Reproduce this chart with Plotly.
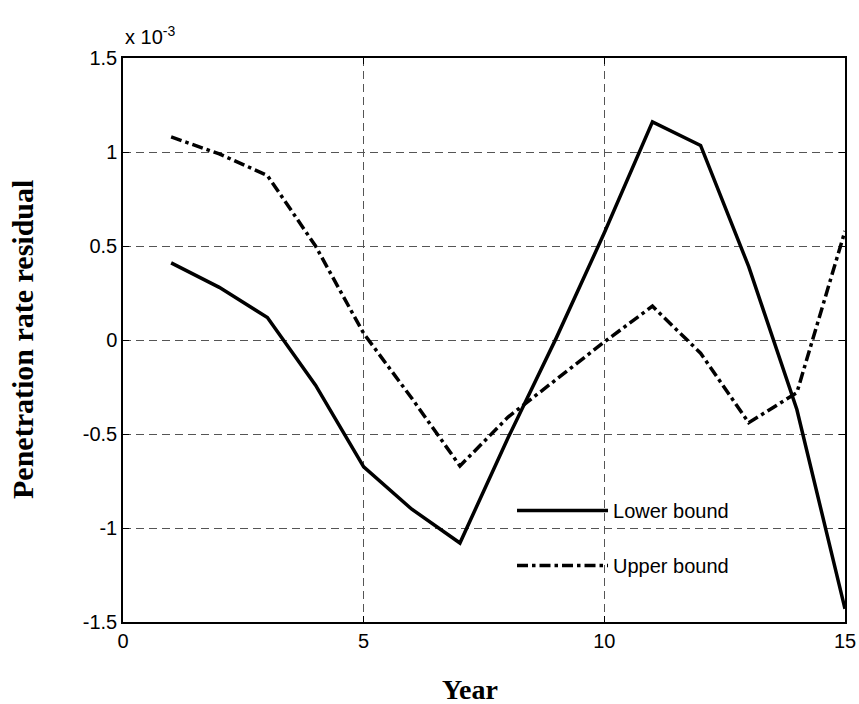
import plotly.graph_objects as go

# Data (residual values in units of 1e-3)
years = [1, 2, 3, 4, 5, 6, 7, 8, 9, 10, 11, 12, 13, 14, 15]
lower_bound = [0.41, 0.28, 0.12, -0.24, -0.675, -0.90, -1.08, -0.52, 0.01, 0.57, 1.16, 1.035, 0.39, -0.37, -1.43]
upper_bound = [1.08, 0.99, 0.875, 0.50, 0.035, -0.31, -0.67, -0.41, -0.21, -0.01, 0.18, -0.07, -0.44, -0.28, 0.58]

x_tick_vals = [0, 5, 10, 15]
x_tick_text = ["0", "5", "10", "15"]
y_tick_vals = [-1.5, -1, -0.5, 0, 0.5, 1, 1.5]
y_tick_text = ["-1.5", "-1", "-0.5", "0", "0.5", "1", "1.5"]

SANS = "Liberation Sans, Arial, sans-serif"
SERIF = "Liberation Serif, Times New Roman, serif"
TICK_FONT = dict(family=SANS, size=20, color="black")

fig = go.Figure()
fig.add_trace(go.Scatter(x=years, y=lower_bound, mode="lines", name="Lower bound",
                         legendgroup="a",
                         line=dict(color="black", width=3.5)))
fig.add_trace(go.Scatter(x=years, y=upper_bound, mode="lines", name="Upper bound",
                         legendgroup="b",
                         line=dict(color="black", width=3.5, dash="11px,4px,3.5px,4px")))

axis_common = dict(
    showline=True, linecolor="black", linewidth=1.5, mirror="ticks",
    ticks="inside", ticklen=6, tickwidth=1, tickcolor="black",
    showgrid=True, gridcolor="#555555", gridwidth=1, griddash="8px,5px",
    zeroline=False, tickfont=TICK_FONT, automargin=False,
)

fig.update_xaxes(range=[0, 15], tickvals=x_tick_vals, ticktext=x_tick_text, **axis_common)
fig.update_yaxes(range=[-1.5, 1.5], tickvals=y_tick_vals, ticktext=y_tick_text, **axis_common)

fig.update_layout(
    width=859, height=704,
    margin=dict(l=123, r=14, t=58, b=82),
    plot_bgcolor="white", paper_bgcolor="white",
    showlegend=True,
    legend=dict(
        x=0.5388, y=0.2323, xanchor="left", yanchor="top",
        bgcolor="rgba(0,0,0,0)", borderwidth=0,
        font=dict(family=SANS, size=20, color="black"),
        itemwidth=91, tracegroupgap=26,
    ),
    shapes=[
        # white backing behind the legend (hides grid lines there)
        dict(type="rect", xref="paper", yref="paper", x0=0.522, x1=0.924, y0=0.037, y1=0.2695,
             fillcolor="white", line=dict(width=0), layer="between"),
    ],
    annotations=[
        dict(text="x 10<sup>-3</sup>", xref="paper", yref="paper", x=0, y=1,
             xanchor="left", yanchor="bottom", yshift=8, showarrow=False,
             font=dict(family=SANS, size=20, color="black")),
        dict(text="<b>Year</b>", xref="paper", yref="paper", x=0.48, y=0,
             xanchor="center", yanchor="middle", yshift=-67, showarrow=False,
             font=dict(family=SERIF, size=28, color="black")),
        dict(text="<b>Penetration rate residual</b>", xref="paper", yref="paper", x=0, y=0.5,
             xanchor="center", yanchor="middle", xshift=-101, textangle=-90, showarrow=False,
             font=dict(family=SERIF, size=30, color="black")),
    ],
)

fig.write_html("out.html", config={"displayModeBar": False},
               post_script="document.body.style.margin='0';document.body.style.overflow='hidden';")
